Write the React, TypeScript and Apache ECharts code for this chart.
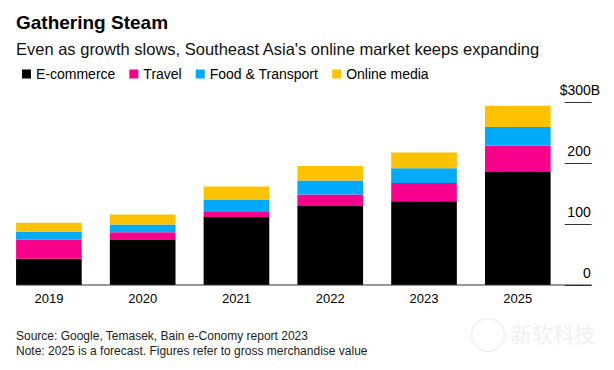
import React, { useEffect, useRef } from "react";
import * as echarts from "echarts";

const categories = ["2019", "2020", "2021", "2022", "2023", "2025"];
const ecommerce = [43, 74, 112, 130, 138, 186];
const travel = [32, 13, 8, 19, 30, 43];
const foodTransport = [12.5, 12.5, 20, 23, 24, 31];
const onlineMedia = [15, 16.5, 22, 24, 26, 35];
const seriesNames = ["E-commerce", "Travel", "Food & Transport", "Online media"];
const colors = ["#000000", "#f7008c", "#00aafb", "#ffc200"];
const yMax = 300;
const yInterval = 100;
const topLabel = "$300B";

const FONT = "'Liberation Sans', Arial, sans-serif";

export default function App() {
  const ref = useRef<HTMLDivElement>(null);
  useEffect(() => {
    if (!ref.current) return;
    const chart = echarts.init(ref.current, null, { renderer: "svg" });
    const values = [ecommerce, travel, foodTransport, onlineMedia];
    chart.setOption({
      animation: false,
      backgroundColor: "#ffffff",
      textStyle: { fontFamily: FONT },
      grid: { left: 2, right: 49.3, top: 102.7, bottom: 85 },
      legend: {
        left: 17,
        top: 62,
        icon: "rect",
        itemWidth: 9,
        itemHeight: 9,
        itemGap: 14,
        textStyle: { fontSize: 14, color: "#000", fontFamily: FONT },
        data: seriesNames,
      },
      xAxis: {
        type: "category",
        data: categories,
        axisLine: { show: false },
        axisTick: { show: false },
        axisLabel: { fontSize: 13, color: "#000", margin: 7, fontFamily: FONT },
      },
      yAxis: {
        type: "value",
        position: "right",
        min: 0,
        max: yMax,
        interval: yInterval,
        splitLine: { show: false },
        axisLine: { show: false },
        axisTick: { show: true, length: 27, lineStyle: { color: "#333", width: 1 } },
        axisLabel: {
          margin: 26,
          align: "right",
          verticalAlign: "middle",
          padding: [0, 0, 25, 0],
          fontSize: 14,
          color: "#000",
          fontFamily: FONT,
          formatter: (v: number) => (v === yMax ? "" : "{v|" + v + "}"),
          rich: {
            v: { fontSize: 14, color: "#000", fontFamily: FONT },
          },
        },
      },
      series: values.map((d, i) => ({
        name: seriesNames[i],
        type: "bar",
        stack: "total",
        barWidth: "70%",
        data: d,
        itemStyle: { color: colors[i] },
      })),
      graphic: [
        { type: "text", left: 16, top: 13, style: { text: "Gathering Steam", font: `bold 19px ${FONT}`, fill: "#000" } },
        { type: "text", left: 16, top: 40, style: { text: "Even as growth slows, Southeast Asia's online market keeps expanding", font: `16.5px ${FONT}`, fill: "#111" } },
        { type: "text", left: 16, top: 330, style: { text: "Source: Google, Temasek, Bain e-Conomy report 2023", font: `12px ${FONT}`, fill: "#222" } },
        { type: "text", left: 16, top: 345, style: { text: "Note: 2025 is a forecast. Figures refer to gross merchandise value", font: `12px ${FONT}`, fill: "#222" } },
        { type: "ring", shape: { cx: 488, cy: 335, r: 17, r0: 15.8 }, style: { fill: "#eeeeee" }, silent: true },
        { type: "text", left: 511, top: 322, style: { text: "新软科技", font: `21px 'Noto Sans CJK SC', sans-serif`, fill: "#f0f0f0" }, silent: true },
      ],
    });
    const y0 = chart.convertToPixel({ yAxisIndex: 0 }, 0) as number;
    const yTop = chart.convertToPixel({ yAxisIndex: 0 }, yMax) as number;
    const xFirst = chart.convertToPixel({ xAxisIndex: 0 }, categories[0]) as number;
    const xLast = chart.convertToPixel({ xAxisIndex: 0 }, categories[categories.length - 1]) as number;
    const band = (xLast - xFirst) / (categories.length - 1);
    const x1 = xFirst - band * 0.35;
    const gridRight = xLast + band / 2;
    const x2 = gridRight + 27;
    chart.setOption({
      graphic: [
        {
          id: "baseline",
          type: "line",
          shape: { x1, y1: y0, x2, y2: y0 },
          style: { stroke: "#333", lineWidth: 1 },
          z: 10,
        },
        {
          id: "toplabel",
          type: "text",
          x: gridRight + 26 + 9.5,
          y: yTop - 12.5,
          style: {
            text: topLabel,
            font: `14px ${FONT}`,
            fill: "#000",
            align: "right",
            verticalAlign: "middle",
          },
        },
      ],
    });
    return () => chart.dispose();
  }, []);
  return (
    <div
      ref={ref}
      style={{ position: "fixed", left: 0, top: 0, width: 614, height: 370 }}
    />
  );
}
